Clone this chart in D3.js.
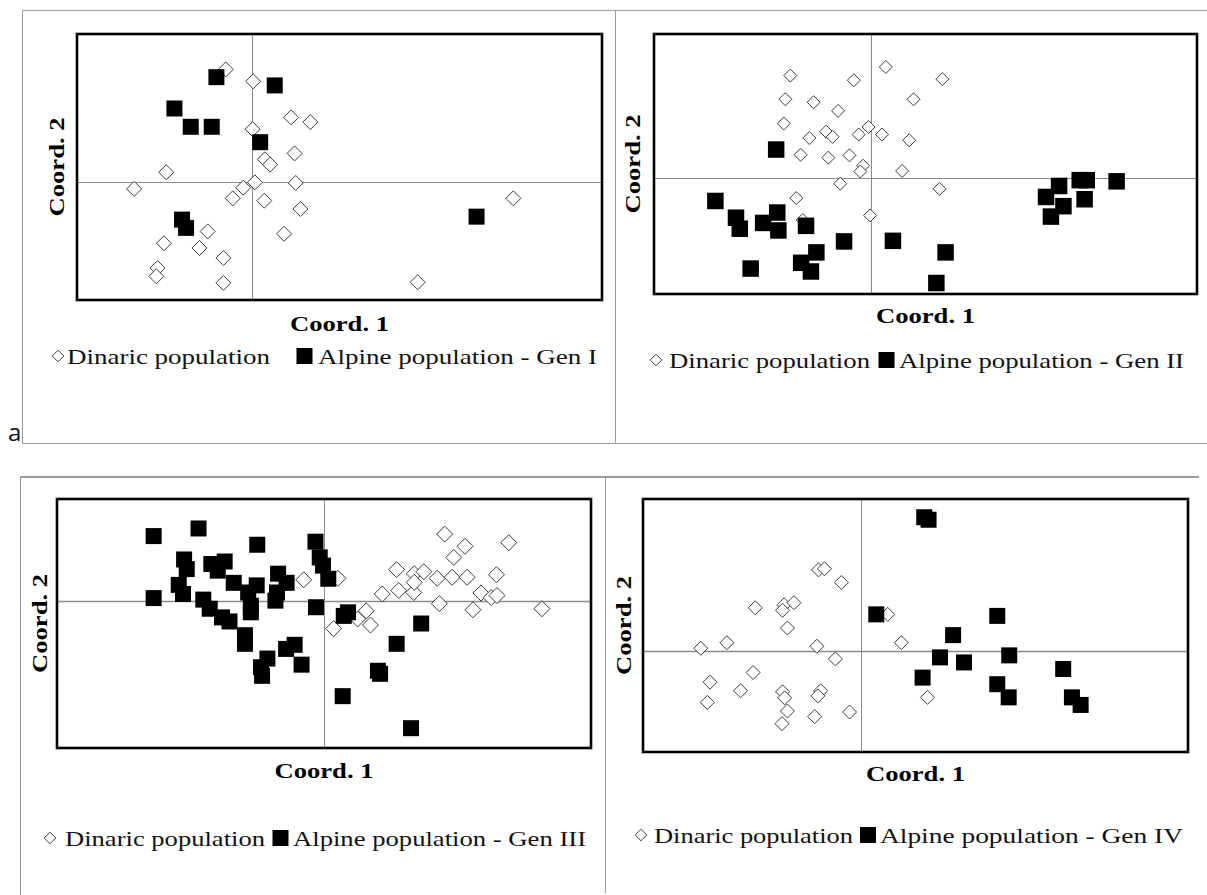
<!DOCTYPE html>
<html>
<head>
<meta charset="utf-8">
<script src="https://cdn.jsdelivr.net/npm/d3@7"></script>
<style>
  html, body { margin: 0; padding: 0; background: #fff; }
  svg { display: block; }
  .serif { font-family: "Liberation Serif", "Times New Roman", Times, serif; }
</style>
</head>
<body>
<svg id="fig" width="1207" height="895"></svg>
<script>
// ---- Data: PCoA coordinates [Coord. 1, Coord. 2] ----
const dinaricGen1 = [
  [-0.045, 0.190], [0.002, 0.170], [0.067, 0.109], [0.100, 0.101], [0.001, 0.089],
  [0.073, 0.048], [0.022, 0.038], [0.031, 0.029], [-0.147, 0.016], [0.005, -0.001],
  [0.075, -0.002], [-0.202, -0.012], [-0.015, -0.010], [-0.033, -0.028], [0.021, -0.032],
  [0.083, -0.046], [0.448, -0.028], [-0.076, -0.084], [0.055, -0.088], [-0.151, -0.104],
  [-0.090, -0.112], [-0.049, -0.129], [-0.162, -0.146], [-0.164, -0.160], [-0.049, -0.171],
  [0.284, -0.170]
];
const alpineGen1 = [
  [-0.061, 0.177], [0.039, 0.163], [-0.133, 0.124], [-0.105, 0.093], [-0.069, 0.093],
  [0.014, 0.067], [-0.120, -0.064], [-0.113, -0.078], [0.385, -0.059]
];

const dinaricGen2 = [
  [-0.149, 0.178], [0.027, 0.193], [-0.032, 0.170], [0.131, 0.172], [-0.158, 0.137],
  [-0.106, 0.132], [0.078, 0.137], [-0.061, 0.117], [-0.161, 0.095], [-0.005, 0.089],
  [-0.083, 0.081], [-0.071, 0.072], [-0.023, 0.076], [0.020, 0.076], [-0.114, 0.070],
  [0.070, 0.066], [-0.130, 0.041], [-0.079, 0.036], [-0.040, 0.040], [-0.015, 0.022],
  [-0.020, 0.012], [0.057, 0.013], [-0.057, -0.009], [0.126, -0.018], [-0.138, -0.034],
  [-0.002, -0.064], [-0.126, -0.072]
];
const alpineGen2 = [
  [-0.175, 0.050], [-0.287, -0.039], [-0.249, -0.068], [-0.242, -0.087], [-0.199, -0.077],
  [-0.173, -0.059], [-0.171, -0.090], [-0.120, -0.082], [-0.050, -0.109], [-0.101, -0.128],
  [-0.129, -0.146], [-0.111, -0.161], [-0.222, -0.156], [0.040, -0.108], [0.137, -0.128],
  [0.120, -0.181], [0.346, -0.013], [0.322, -0.032], [0.354, -0.048], [0.331, -0.066],
  [0.384, -0.003], [0.397, -0.003], [0.393, -0.036], [0.452, -0.005]
];

const dinaricGen3 = [
  [0.226, 0.131], [0.264, 0.107], [0.346, 0.114], [0.243, 0.085], [0.136, 0.061],
  [0.169, 0.053], [0.187, 0.057], [0.212, 0.044], [0.240, 0.046], [0.268, 0.046],
  [0.323, 0.051], [0.026, 0.044], [0.109, 0.013], [0.140, 0.020], [0.168, 0.016],
  [0.169, 0.036], [0.294, 0.015], [0.313, 0.006], [0.324, 0.010], [0.216, -0.006],
  [0.279, -0.018], [0.408, -0.016], [0.079, -0.020], [0.087, -0.048], [0.018, -0.055],
  [0.063, -0.036], [-0.038, 0.041]
];
const alpineGen3 = [
  [-0.319, 0.127], [-0.235, 0.142], [-0.125, 0.110], [-0.016, 0.116], [-0.262, 0.081],
  [-0.257, 0.062], [-0.211, 0.072], [-0.186, 0.077], [-0.199, 0.059], [-0.008, 0.085],
  [-0.002, 0.069], [0.008, 0.043], [-0.086, 0.053], [-0.070, 0.035], [-0.169, 0.035],
  [-0.126, 0.030], [-0.142, 0.016], [-0.272, 0.031], [-0.264, 0.013], [-0.319, 0.005],
  [-0.091, 0.000], [-0.088, 0.016], [-0.226, 0.002], [-0.214, -0.016], [-0.191, -0.033],
  [-0.177, -0.041], [-0.137, -0.010], [-0.137, -0.023], [-0.015, -0.013], [-0.148, -0.068],
  [-0.148, -0.085], [-0.055, -0.087], [-0.071, -0.095], [-0.042, -0.126], [-0.106, -0.114],
  [-0.118, -0.131], [-0.116, -0.148], [0.045, -0.023], [0.037, -0.030], [0.182, -0.045],
  [0.136, -0.085], [0.101, -0.138], [0.105, -0.144], [0.035, -0.188], [0.163, -0.251]
];

const dinaricGen4 = [
  [-0.078, 0.160], [-0.067, 0.162], [-0.036, 0.135], [-0.194, 0.085], [-0.141, 0.091],
  [-0.123, 0.095], [-0.144, 0.080], [-0.135, 0.045], [-0.246, 0.016], [-0.294, 0.005],
  [-0.081, 0.009], [-0.047, -0.016], [0.049, 0.072], [0.074, 0.016], [-0.198, -0.043],
  [-0.277, -0.062], [-0.221, -0.079], [-0.282, -0.102], [-0.144, -0.081], [-0.140, -0.093],
  [-0.074, -0.079], [-0.079, -0.089], [-0.135, -0.119], [-0.085, -0.130], [-0.021, -0.121],
  [-0.145, -0.144], [0.122, -0.092]
];
const alpineGen4 = [
  [0.116, 0.264], [0.124, 0.259], [0.028, 0.072], [0.250, 0.069], [0.169, 0.031],
  [0.272, -0.009], [0.145, -0.013], [0.189, -0.023], [0.113, -0.053], [0.250, -0.066],
  [0.271, -0.092], [0.371, -0.036], [0.387, -0.092], [0.403, -0.107]
];

// ---- Labels ----
const dinaricLabel = "Dinaric population";
const alpineLabels = [
  "Alpine population - Gen I",
  "Alpine population - Gen II",
  "Alpine population - Gen III",
  "Alpine population - Gen IV"
];
const xTitle = "Coord. 1";
const yTitle = "Coord. 2";

// ---- Panel layout ----
const panels = [
  { dinaric: dinaricGen1, alpine: alpineGen1, label: alpineLabels[0],
    box: { l: 77, t: 34, r: 602, b: 300 }, xd: [-0.3, 0.6], yd: [-0.2, 0.25],
    dia: 7.5, sq: 16, hzw: 1,
    xt: { y: 331 }, yt: { x: 64 },
    leg: { y: 356, dx: 58, dtx: 67, dtw: 203, sx: 304.5, stx: 318, stw: 279 } },
  { dinaric: dinaricGen2, alpine: alpineGen2, label: alpineLabels[1],
    box: { l: 654, t: 34, r: 1197, b: 294 }, xd: [-0.4, 0.6], yd: [-0.2, 0.25],
    dia: 6.5, sq: 16.5, hzw: 1,
    xt: { y: 323 }, yt: { x: 640 },
    leg: { y: 360, dx: 656, dtx: 669, dtw: 201, sx: 886.5, stx: 899, stw: 285 } },
  { dinaric: dinaricGen3, alpine: alpineGen3, label: alpineLabels[2],
    box: { l: 57, t: 499, r: 591, b: 748 }, xd: [-0.5, 0.5], yd: [-0.29, 0.2],
    dia: 8, sq: 16, hzw: 1.6,
    xt: { y: 778 }, yt: { x: 47 },
    leg: { y: 838, dx: 50, dtx: 65, dtw: 200, sx: 280.5, stx: 293, stw: 293 } },
  { dinaric: dinaricGen4, alpine: alpineGen4, label: alpineLabels[3],
    box: { l: 643, t: 499, r: 1188, b: 752 }, xd: [-0.4, 0.6], yd: [-0.2, 0.3],
    dia: 7, sq: 16, hzw: 1.6,
    xt: { y: 781 }, yt: { x: 631 },
    leg: { y: 835, dx: 641, dtx: 654, dtw: 199, sx: 868, stx: 880, stw: 303 } }
];

const svg = d3.select("#fig");
const FRAME = "#9a9a9a";

// ---- Chart frames ----
const frames = svg.append("g").attr("fill", "none").attr("stroke", FRAME);
frames.append("path").attr("stroke-width", 1)
  .attr("d", "M22.5,443.5 V10.5 H1207 M615.5,10.5 V443.5 M22.5,443.5 H1207");
frames.append("path").attr("stroke-width", 2)
  .attr("d", "M20,477 H1199");
frames.append("path").attr("stroke-width", 1)
  .attr("d", "M20.5,477 V895 M605.5,477 V893");

svg.append("text")
  .attr("x", 8).attr("y", 441)
  .style("font-family", "'Open Sans', 'Liberation Sans', sans-serif")
  .attr("font-size", 24).attr("fill", "#111")
  .text("a");

// text stretched along its writing direction
function stretchText(sel, width) {
  const node = sel.node();
  const w = width != null ? width : node.getComputedTextLength() * 1.2;
  sel.attr("textLength", w).attr("lengthAdjust", "spacingAndGlyphs");
}

function diamondPath(h) {
  return `M0,${-h}L${h},0L0,${h}L${-h},0Z`;
}

panels.forEach(p => {
  const g = svg.append("g");
  const x = d3.scaleLinear().domain(p.xd).range([p.box.l, p.box.r]);
  const y = d3.scaleLinear().domain(p.yd).range([p.box.b, p.box.t]);

  // zero axes
  g.append("line")
    .attr("x1", Math.round(x(0)) + 0.5).attr("x2", Math.round(x(0)) + 0.5)
    .attr("y1", p.box.t).attr("y2", p.box.b)
    .attr("stroke", "#8a8a8a").attr("stroke-width", 1);
  g.append("line")
    .attr("x1", p.box.l).attr("x2", p.box.r)
    .attr("y1", Math.round(y(0)) + 0.5).attr("y2", Math.round(y(0)) + 0.5)
    .attr("stroke", "#8a8a8a").attr("stroke-width", p.hzw);

  // Dinaric population: hollow diamonds
  g.append("g").selectAll("path").data(p.dinaric).join("path")
    .attr("transform", d => `translate(${x(d[0])},${y(d[1])})`)
    .attr("d", diamondPath(p.dia))
    .attr("fill", "#fff").attr("stroke", "#3a3a3a").attr("stroke-width", 1);

  // Alpine population: filled squares
  const sq = d3.symbol(d3.symbolSquare, p.sq * p.sq);
  g.append("g").selectAll("path").data(p.alpine).join("path")
    .attr("transform", d => `translate(${x(d[0])},${y(d[1])})`)
    .attr("d", sq)
    .attr("fill", "#000");

  // plot area border
  g.append("rect")
    .attr("x", p.box.l).attr("y", p.box.t)
    .attr("width", p.box.r - p.box.l).attr("height", p.box.b - p.box.t)
    .attr("fill", "none").attr("stroke", "#000").attr("stroke-width", 2.6);

  // axis titles
  const cx = (p.box.l + p.box.r) / 2, cy = (p.box.t + p.box.b) / 2;
  const xt = g.append("text").attr("class", "serif")
    .attr("x", cx).attr("y", p.xt.y)
    .attr("text-anchor", "middle")
    .attr("font-weight", "bold").attr("font-size", 22)
    .text(xTitle);
  stretchText(xt, 99);
  const yt = g.append("text").attr("class", "serif")
    .attr("transform", `translate(${p.yt.x},${cy}) rotate(-90)`)
    .attr("text-anchor", "middle")
    .attr("font-weight", "bold").attr("font-size", 22)
    .text(yTitle);
  stretchText(yt, 99);

  // legend
  const L = p.leg;
  const lg = g.append("g");
  lg.append("path")
    .attr("transform", `translate(${L.dx},${L.y})`)
    .attr("d", diamondPath(5.8))
    .attr("fill", "#fff").attr("stroke", "#3a3a3a").attr("stroke-width", 1);
  const t1 = lg.append("text").attr("class", "serif")
    .attr("x", L.dtx).attr("y", L.y + 8)
    .attr("font-size", 22).attr("fill", "#111")
    .text(dinaricLabel);
  stretchText(t1, L.dtw);
  lg.append("rect")
    .attr("x", L.sx - 8).attr("y", L.y - 8)
    .attr("width", 16).attr("height", 16).attr("fill", "#000");
  const t2 = lg.append("text").attr("class", "serif")
    .attr("x", L.stx).attr("y", L.y + 8)
    .attr("font-size", 22).attr("fill", "#111")
    .text(p.label);
  stretchText(t2, L.stw);
});
</script>
</body>
</html>
